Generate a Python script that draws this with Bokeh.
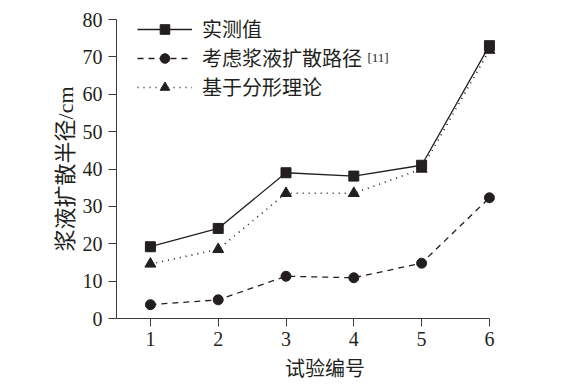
from bokeh.plotting import figure
from bokeh.models import Legend, LegendItem, Label, FixedTicker, Range1d
from bokeh.embed import file_html
from bokeh.resources import INLINE

# ---- data ----
trial = [1, 2, 3, 4, 5, 6]
measured = [19.2, 24.1, 39.0, 38.1, 41.0, 73.0]
path_model = [3.7, 5.0, 11.3, 10.9, 14.8, 32.3]
fractal = [14.6, 18.5, 33.5, 33.5, 40.0, 71.8]
x_ticks = [1, 2, 3, 4, 5, 6]
y_ticks = [0, 10, 20, 30, 40, 50, 60, 70, 80]
labels = ["实测值", "考虑浆液扩散路径", "基于分形理论"]
ref_note = "[11]"
x_title = "试验编号"
y_title = "浆液扩散半径/cm"

INK = "#231f20"
AX = "#3c3c3c"
SERIF = "Liberation Serif"
CJK = "'Liberation Serif', 'Noto Sans CJK SC'"

p = figure(width=570, height=382, x_range=Range1d(0.5, 6.65), y_range=Range1d(0, 80),
           output_backend="svg", toolbar_location=None,
           min_border_left=116, min_border_right=37, min_border_top=19, min_border_bottom=64)
p.outline_line_color = None
p.xgrid.grid_line_color = None
p.ygrid.grid_line_color = None
p.background_fill_color = "white"
p.border_fill_color = "white"

for ax in (p.xaxis[0], p.yaxis[0]):
    ax.axis_line_color = AX
    ax.major_tick_line_color = AX
    ax.minor_tick_line_color = None
    ax.major_tick_in = 0
    ax.major_tick_out = 8
    ax.major_label_text_font = SERIF
    ax.major_label_text_font_size = "20px"
    ax.major_label_text_color = INK
    ax.axis_label_text_font = CJK
    ax.axis_label_text_font_style = "normal"
    ax.axis_label_text_color = INK

p.xaxis.ticker = FixedTicker(ticks=x_ticks)
p.yaxis.ticker = FixedTicker(ticks=y_ticks)
p.xaxis.bounds = (0.5, 6)
p.xaxis.major_label_standoff = 5
p.yaxis.major_label_standoff = 6
p.xaxis.axis_label = x_title
p.yaxis.axis_label = y_title
p.xaxis.axis_label_text_font_size = "20px"
p.yaxis.axis_label_text_font_size = "22px"
p.xaxis.axis_label_standoff = 9
p.yaxis.axis_label_standoff = 2

l1 = p.line(trial, measured, line_color=INK, line_width=1.3)
m1 = p.scatter(trial, measured, marker="square", size=10, fill_color=INK, line_color=INK)
l2 = p.line(trial, path_model, line_color=INK, line_width=1.3, line_dash="6 5")
m2 = p.scatter(trial, path_model, marker="circle", size=10, fill_color=INK, line_color=INK)
l3 = p.line(trial, fractal, line_color=INK, line_width=1.6, line_dash="1 5")
m3 = p.scatter(trial, fractal, marker="triangle", size=11, fill_color=INK, line_color=INK)

legend = Legend(items=[LegendItem(label=labels[0], renderers=[l1, m1]),
                       LegendItem(label=labels[1], renderers=[l2, m2]),
                       LegendItem(label=labels[2], renderers=[l3, m3])],
                location=(21, 217))
legend.background_fill_alpha = 0
legend.border_line_color = None
legend.padding = 0
legend.margin = 0
legend.spacing = -6
legend.glyph_width = 55
legend.glyph_height = 24
legend.label_height = 24
legend.label_standoff = 10
legend.label_text_font = CJK
legend.label_text_font_size = "20px"
legend.label_text_color = INK
p.add_layout(legend)

note = Label(x=4.20, y=71.8, text=ref_note, text_font=SERIF, text_font_size="13px",
             text_color=INK, text_baseline="top", text_align="left")
p.add_layout(note)

open("out.html", "w").write(file_html(p, INLINE))
